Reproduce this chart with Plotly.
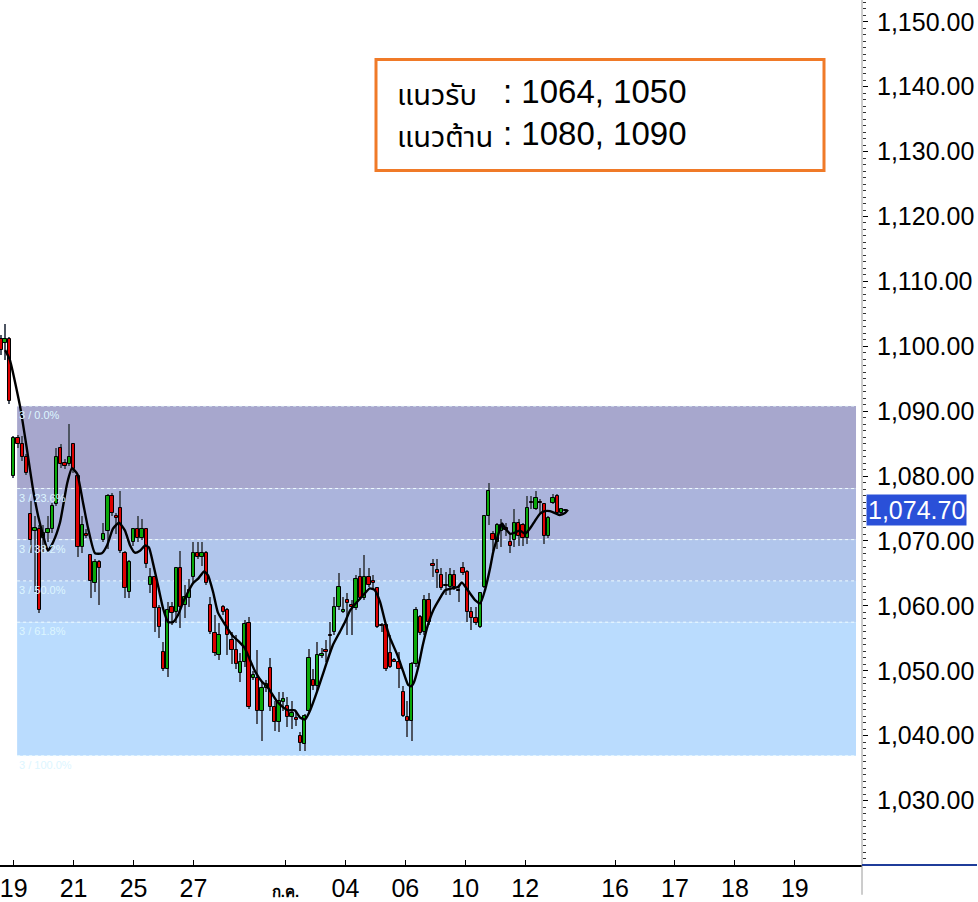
import plotly.graph_objects as go

# ---------------- data ----------------
opens = [1101.2,1100.5,1101.2,1080.0,1085.8,1084.9,1083.0,1074.2,1071.6,1071.9,
         1070.5,1071.3,1071.9,1075.7,1084.3,1082.0,1081.8,1084.9,1080.0,1069.0,
         1071.1,1067.9,1063.6,1066.7,1070.1,1071.6,1076.9,1073.9,1075.1,1068.2,
         1062.1,1069.8,1071.9,1070.5,1071.9,1063.2,1064.4,1059.6,1052.9,1050.2,
         1059.8,1059.0,1065.9,1060.1,1061.2,1064.4,1068.2,1067.5,1068.2,1060.1,
         1055.8,1052.5,1059.8,1059.3,1054.8,1053.2,1049.6,1051.4,1057.4,1048.9,
         1048.9,1043.8,1047.4,1050.5,1044.4,1042.1,1045.2,1044.5,1042.8,1042.7,
         1039.9,1038.7,1043.8,1048.6,1047.6,1052.3,1053.2,1055.5,1056.0,1059.8,
         1059.0,1060.9,1060.1,1059.6,1064.4,1061.2,1064.4,1063.8,1062.7,1057.1,
         1057.1,1052.8,1051.6,1051.3,1046.8,1042.8,1042.2,1051.0,1058.3,1056.0,
         1060.9,1066.4,1065.5,1064.7,1063.2,1062.9,1064.7,1062.4,1065.9,1065.2,
         1059.0,1058.1,1056.8,1062.9,1073.9,1071.1,1069.8,1071.6,1072.0,1069.8,
         1070.1,1072.8,1072.4,1070.5,1076.0,1075.0,1076.0,1075.7,1070.8,1075.9,
         1076.9,1074.3,1074.6]
closes = [1099.4,1101.1,1091.5,1085.8,1085.0,1083.0,1080.4,1070.1,1072.0,1059.3,
          1071.3,1071.9,1075.4,1083.0,1081.8,1081.5,1083.0,1081.1,1069.0,1072.4,
          1070.8,1063.8,1066.7,1065.9,1071.1,1076.9,1074.3,1073.6,1068.5,1062.7,
          1066.8,1071.9,1070.4,1071.9,1066.5,1064.4,1059.6,1056.8,1050.2,1059.3,
          1058.9,1065.8,1059.8,1061.3,1062.4,1068.2,1067.5,1068.1,1063.5,1056.0,
          1052.8,1055.5,1059.0,1055.5,1053.2,1051.0,1051.3,1057.2,1044.4,1049.4,
          1043.8,1047.4,1047.9,1044.4,1042.1,1045.3,1045.6,1042.8,1043.5,1042.4,
          1038.9,1043.0,1052.0,1047.6,1052.5,1052.6,1052.9,1055.4,1059.8,1062.9,
          1059.3,1060.4,1059.9,1064.2,1061.2,1064.4,1063.2,1063.6,1056.8,1056.9,
          1050.2,1050.6,1051.4,1050.2,1043.0,1042.2,1051.0,1059.3,1055.8,1060.9,
          1057.5,1066.1,1065.0,1062.7,1063.0,1064.7,1062.9,1062.3,1065.0,1059.0,
          1058.1,1057.4,1062.0,1073.9,1077.7,1070.1,1072.4,1072.4,1071.7,1069.3,
          1072.7,1070.8,1070.4,1075.1,1075.9,1076.6,1075.9,1070.8,1073.6,1076.6,
          1074.3,1074.9,1074.7]
highs = [1101.7,1103.4,1101.4,1086.1,1086.4,1086.1,1083.4,1076.2,1073.9,1072.4,
         1072.4,1073.9,1075.9,1084.3,1085.0,1082.6,1088.1,1085.0,1080.3,1073.9,
         1071.9,1067.9,1067.3,1067.0,1072.7,1077.2,1077.4,1074.3,1077.7,1068.5,
         1067.0,1072.0,1073.9,1073.4,1072.0,1065.8,1064.5,1060.1,1054.5,1060.6,
         1060.6,1066.0,1068.5,1063.2,1064.2,1069.8,1069.8,1069.8,1068.5,1061.3,
         1058.6,1057.4,1060.1,1059.6,1056.0,1055.5,1052.8,1057.8,1058.3,1049.9,
         1053.2,1048.2,1048.6,1052.0,1045.3,1046.8,1046.8,1045.9,1045.3,1043.6,
         1040.6,1043.3,1053.4,1050.2,1054.5,1053.5,1054.8,1057.5,1061.3,1065.0,
         1061.3,1062.0,1060.9,1064.7,1065.8,1067.8,1065.8,1064.7,1062.9,1057.4,
         1057.2,1055.5,1052.0,1052.9,1047.6,1045.3,1051.4,1059.8,1058.6,1061.6,
         1062.0,1067.3,1067.3,1065.9,1065.2,1065.8,1065.5,1063.2,1066.8,1065.5,
         1059.8,1059.8,1062.1,1074.0,1078.9,1071.6,1072.8,1073.4,1072.7,1071.1,
         1075.0,1073.4,1072.8,1076.9,1076.9,1077.7,1076.5,1075.9,1073.9,1077.2,
         1077.2,1075.0,1075.0]
lows = [1098.6,1097.9,1091.1,1079.7,1084.3,1082.3,1080.1,1068.1,1062.1,1058.9,
        1068.2,1069.8,1071.3,1075.4,1081.2,1081.1,1081.5,1080.4,1067.5,1068.2,
        1070.5,1061.2,1062.1,1060.1,1069.8,1068.8,1073.9,1071.1,1068.1,1061.2,
        1061.2,1069.3,1069.8,1070.1,1065.9,1062.0,1056.0,1055.1,1049.9,1049.1,
        1057.1,1057.4,1056.6,1058.1,1059.8,1063.6,1067.2,1066.2,1063.2,1055.7,
        1052.2,1051.7,1058.6,1052.5,1051.0,1050.2,1048.2,1050.6,1044.1,1048.6,
        1041.8,1039.2,1046.8,1043.8,1040.7,1040.6,1043.8,1041.3,1041.0,1041.5,
        1037.6,1037.6,1043.3,1047.1,1046.8,1052.0,1051.4,1052.9,1055.5,1059.3,
        1058.9,1055.5,1055.5,1059.3,1060.9,1060.9,1062.9,1062.4,1056.6,1056.0,
        1049.9,1050.5,1051.3,1047.4,1042.8,1039.8,1039.2,1050.6,1055.5,1055.5,
        1057.1,1064.4,1062.7,1062.4,1061.6,1061.6,1062.4,1060.6,1064.7,1057.5,
        1056.3,1057.1,1056.6,1062.7,1072.4,1068.5,1068.8,1069.0,1070.8,1068.1,
        1069.0,1069.3,1069.3,1069.6,1075.0,1074.8,1074.3,1069.6,1070.5,1075.7,
        1074.2,1074.2,1074.3]
bars = list(range(len(opens)))

ma_bar = [1.0,2.1,4.5,6.1,7.5,8.7,9.9,11.0,12.2,13.8,15.5,16.6,17.8,19.2,20.4,22.0,
          23.6,24.8,26.2,27.6,29.0,30.2,31.3,32.5,33.7,34.6,35.5,36.7,37.9,39.1,40.2,
          41.4,42.6,43.7,44.9,46.1,47.5,48.4,49.6,50.7,52.4,54.0,55.9,57.0,58.2,59.4,
          61.0,62.2,63.4,64.5,65.9,67.1,68.7,69.9,71.1,72.2,73.4,74.6,76.2,77.6,79.2,
          80.4,81.6,83.2,84.6,86.2,87.4,88.6,89.8,90.9,92.6,94.0,95.1,95.8,96.5,97.5,
          98.6,99.8,101.0,102.6,103.8,105.4,106.8,107.7,109.1,110.8,112.0,113.1,114.3,
          115.0,116.0,117.1,117.8,119.0,120.1,121.3,122.5,123.6,124.8,126.0,127.1,
          128.3,129.5,130.6,131.8,132.5]
ma_val = [1099.4,1097.9,1090.7,1084.1,1078.0,1073.9,1070.8,1068.5,1069.8,1072.8,1078.9,
          1081.2,1080.4,1075.9,1071.9,1068.1,1068.1,1069.3,1071.9,1072.8,1071.6,1069.3,
          1068.2,1068.5,1069.3,1069.0,1066.7,1063.2,1059.6,1057.5,1057.5,1058.6,1060.6,
          1062.1,1063.5,1064.2,1065.3,1064.7,1062.1,1059.0,1057.1,1055.5,1054.3,1053.5,
          1051.7,1049.9,1048.3,1047.6,1046.4,1045.3,1044.4,1043.9,1043.9,1042.8,1042.5,
          1043.8,1045.9,1048.2,1051.4,1054.0,1056.0,1057.5,1059.3,1060.6,1061.6,1062.7,
          1062.4,1060.6,1057.5,1055.1,1052.5,1049.9,1047.9,1047.6,1048.2,1050.5,1054.0,
          1057.1,1059.3,1061.2,1062.4,1062.7,1062.9,1063.6,1062.4,1060.9,1060.4,1062.4,
          1065.8,1068.2,1070.5,1072.7,1072.0,1071.1,1071.3,1071.6,1071.1,1071.9,1073.1,
          1074.2,1074.6,1074.6,1074.3,1074.0,1074.3,1074.8]

tick_bars = [3, 17, 31, 45, 66.5, 80.5, 94.5, 108.5, 122.5, 143.5, 157.5, 171.5, 185.5]
tick_labels = ["19", "21", "25", "27", "<span style='font-size:15px'><b>ก.ค.</b></span>",
               "04", "06", "10", "12", "16", "17", "18", "19"]

fib_high = 1090.8
fib_low = 1036.9
fib_start_bar = 3.8
fib_end_bar = 199.8
fib_ratios = [0.0, 0.236, 0.382, 0.5, 0.618, 1.0]
fib_labels = ["3 / 0.0%", "3 / 23.6%", "3 / 38.2%", "3 / 50.0%", "3 / 61.8%", "3 / 100.0%"]
fib_colors = ["#A7A7CD", "#ABB4DC", "#B1C6EC", "#B5D1F5", "#BADCFE"]

last_price = 1074.70
support_label = "แนวรับ"
resist_label = "แนวต้าน"
support_text = ": 1064, 1050"
resist_text = ": 1080, 1090"

y_range = [1020.07, 1153.36]
x_range = [-0.2, 201.2]

# ---------------- figure ----------------
fig = go.Figure()

inc_col = "#0AA80A"
dec_col = "#DC0000"
body_colors = [inc_col if c >= o else dec_col for o, c in zip(opens, closes)]

# wicks
fig.add_trace(go.Bar(
    x=bars, base=lows, y=[h - l for h, l in zip(highs, lows)],
    width=0.34, marker=dict(color="#4E5562", line=dict(width=0)),
    hoverinfo="skip", showlegend=False))
# bodies
fig.add_trace(go.Bar(
    x=bars, base=opens, y=[c - o for o, c in zip(opens, closes)],
    width=0.78, marker=dict(color=body_colors, line=dict(color="black", width=1)),
    hoverinfo="skip", showlegend=False))
# moving average
fig.add_trace(go.Scatter(
    x=ma_bar, y=ma_val, mode="lines",
    line=dict(color="black", width=2.4, shape="spline", smoothing=0.5),
    hoverinfo="skip", showlegend=False))

shapes = []
levels = [fib_high - r * (fib_high - fib_low) for r in fib_ratios]
for k in range(len(levels) - 1):
    shapes.append(dict(type="rect", xref="x", yref="y", layer="below",
                       x0=fib_start_bar, x1=fib_end_bar, y0=levels[k + 1], y1=levels[k],
                       fillcolor=fib_colors[k], line=dict(width=0)))
for k, lv in enumerate(levels):
    shapes.append(dict(type="line", xref="x", yref="y", layer="below",
                       x0=fib_start_bar, x1=fib_end_bar, y0=lv, y1=lv,
                       line=dict(color="#EEFCFF", width=1, dash="dot")))

# orange info box
shapes.append(dict(type="rect", xref="paper", yref="paper",
                   x0=376 / 862, x1=824 / 862, y0=1 - 172 / 872, y1=1 - 60 / 872,
                   fillcolor="white", line=dict(color="#F07A28", width=3)))
# axis frame pieces
shapes.append(dict(type="line", xref="paper", yref="paper", x0=1, x1=1, y0=-30 / 872, y1=1,
                   line=dict(color="#9A9A9A", width=1)))
shapes.append(dict(type="line", xref="paper", yref="paper", x0=1, x1=977 / 862,
                   y0=0, y1=0, line=dict(color="#1F3C9A", width=2)))

annotations = []
for lv, lab in zip(levels, fib_labels):
    annotations.append(dict(x=fib_start_bar, y=lv, xref="x", yref="y", text=lab,
                            showarrow=False, xanchor="left", yanchor="top", yshift=-1,
                            font=dict(family="Liberation Sans, Arial", size=11, color="#DDF6FF")))

thai_font = dict(family="Noto Sans, Noto Sans Thai, sans-serif", size=29, color="black")
num_font = dict(family="Liberation Sans, Arial", size=33, color="black")
annotations += [
    dict(x=395 / 862, y=1 - 94 / 872, xref="paper", yref="paper", text=support_label,
         showarrow=False, xanchor="left", yanchor="middle", font=thai_font),
    dict(x=395 / 862, y=1 - 137 / 872, xref="paper", yref="paper", text=resist_label,
         showarrow=False, xanchor="left", yanchor="middle", font=thai_font),
    dict(x=501 / 862, y=1 - 92 / 872, xref="paper", yref="paper", text=support_text,
         showarrow=False, xanchor="left", yanchor="middle", font=num_font),
    dict(x=501 / 862, y=1 - 135 / 872, xref="paper", yref="paper", text=resist_text,
         showarrow=False, xanchor="left", yanchor="middle", font=num_font),
    dict(x=866 / 862, y=last_price, xref="paper", yref="y", text=f"{last_price:,.2f}",
         showarrow=False, xanchor="left", yanchor="middle", bgcolor="#2A50D8",
         borderpad=1, font=dict(family="Liberation Sans, Arial", size=25, color="white")),
]

fig.update_layout(
    width=978, height=902,
    margin=dict(l=0, r=116, t=0, b=30),
    paper_bgcolor="white", plot_bgcolor="white",
    barmode="overlay", bargap=0,
    shapes=shapes, annotations=annotations,
    showlegend=False,
    xaxis=dict(range=x_range, tickmode="array", tickvals=tick_bars, ticktext=tick_labels,
               showgrid=False, zeroline=False, showline=True, linecolor="black", linewidth=2,
               ticks="inside", ticklen=5, tickcolor="black", ticklabeloverflow="allow",
               tickfont=dict(family="Liberation Sans Narrow, Liberation Sans, Arial", size=25,
                             color="black")),
    yaxis=dict(range=y_range, side="right", tickformat=",.2f", dtick=10, tick0=1030,
               showgrid=False, zeroline=False, showline=False,
               ticks="outside", ticklen=5, tickcolor="black", ticklabelstandoff=4,
               minor=dict(ticks="outside", ticklen=3, dtick=1, tickcolor="#333"),
               tickfont=dict(family="Liberation Sans, Arial", size=25, color="black")),
)

fig.write_html("out.html")
